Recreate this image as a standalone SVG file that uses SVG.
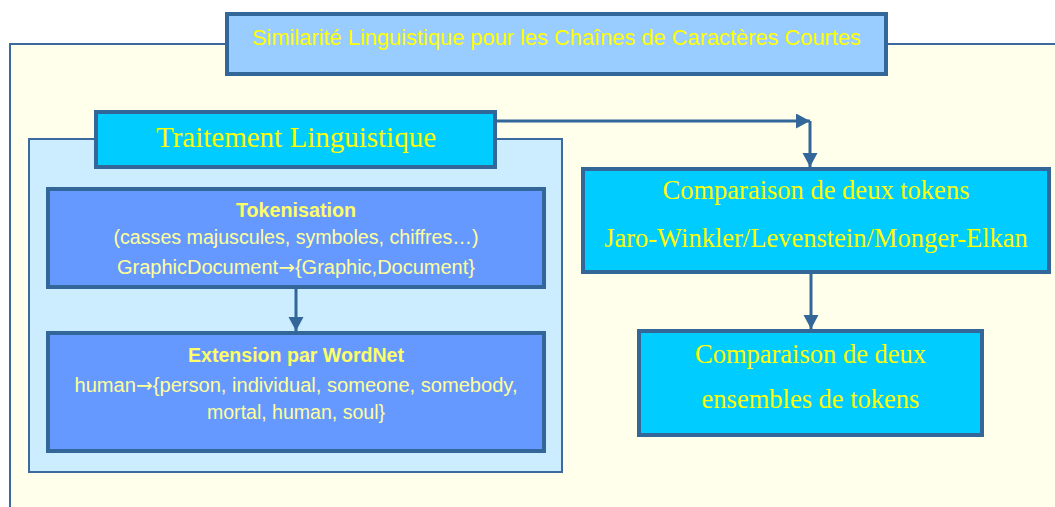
<svg xmlns="http://www.w3.org/2000/svg" width="1055" height="507" viewBox="0 0 1055 507">
  <style>
    .frame { fill: #FFFFEC; stroke: #3D6A9E; stroke-width: 2; }
    .panel { fill: #CCECFF; stroke: #3D6A9E; stroke-width: 2; }
    .box { stroke: #336699; stroke-width: 4; }
    .cyan { fill: #00CCFF; }
    .sky { fill: #99CCFF; }
    .blue { fill: #6699FF; }
    .serif { font-family: "Liberation Serif", "Times New Roman", serif; fill: #FFFF00; text-anchor: middle; }
    .sans { font-family: "Liberation Sans", Arial, sans-serif; text-anchor: middle; }
    .title { font-size: 22px; fill: #FFFF00; }
    .head { font-size: 19.5px; font-weight: bold; fill: #FFFF66; }
    .body { font-size: 19.5px; fill: #FFFF99; }
    .sym { font-family: "DejaVu Sans", sans-serif; }
    .conn { stroke: #336699; stroke-width: 3; fill: none; }
  </style>
  <defs>
    <marker id="arrow" markerUnits="userSpaceOnUse" markerWidth="16" markerHeight="16" refX="14" refY="7.5" orient="auto">
      <path d="M0,0 L14,7.5 L0,15 Z" fill="#336699"/>
    </marker>
  </defs>

  <rect width="1055" height="507" fill="#FFFFFF"/>

  <!-- outer frame of the whole schema -->
  <rect id="frame" class="frame" x="10" y="44" width="1060" height="480"/>

  <!-- linguistic processing panel -->
  <rect id="panel" class="panel" x="29" y="139" width="533" height="333"/>

  <g id="title">
    <rect class="box sky" x="227" y="14" width="659" height="60"/>
    <text class="sans title" x="556.5" y="45" textLength="609" lengthAdjust="spacingAndGlyphs">Similarité Linguistique pour les Chaînes de Caractères Courtes</text>
  </g>

  <g id="traitement">
    <rect class="box cyan" x="96" y="112" width="399" height="55"/>
    <text class="serif" x="296" y="147" font-size="29">Traitement Linguistique</text>
  </g>

  <g id="tokenisation">
    <rect class="box blue" x="48" y="189" width="496" height="98"/>
    <text class="sans head" x="296" y="217" textLength="120" lengthAdjust="spacingAndGlyphs">Tokenisation</text>
    <text class="sans body" x="296" y="244" textLength="365" lengthAdjust="spacingAndGlyphs">(casses majuscules, symboles, chiffres…)</text>
    <text class="sans body" x="296" y="274" textLength="358" lengthAdjust="spacingAndGlyphs">GraphicDocument<tspan class="sym">→</tspan>{Graphic,Document}</text>
  </g>

  <g id="extension">
    <rect class="box blue" x="48" y="333" width="496" height="118"/>
    <text class="sans head" x="296" y="362" textLength="216" lengthAdjust="spacingAndGlyphs">Extension par WordNet</text>
    <text class="sans body" x="296" y="392" textLength="443" lengthAdjust="spacingAndGlyphs">human<tspan class="sym">→</tspan>{person, individual, someone, somebody,</text>
    <text class="sans body" x="296" y="419" textLength="178" lengthAdjust="spacingAndGlyphs">mortal, human, soul}</text>
  </g>

  <g id="comparaison-tokens">
    <rect class="box cyan" x="583" y="169" width="466" height="103"/>
    <text class="serif" x="816" y="199" font-size="26.5">Comparaison de deux tokens</text>
    <text class="serif" x="816" y="247" font-size="26.5">Jaro-Winkler/Levenstein/Monger-Elkan</text>
  </g>

  <g id="comparaison-ensembles">
    <rect class="box cyan" x="639" y="331" width="343" height="104"/>
    <text class="serif" x="810.5" y="363" font-size="26.5">Comparaison de deux</text>
    <text class="serif" x="810.5" y="408" font-size="26.5">ensembles de tokens</text>
  </g>

  <g id="connectors">
    <line class="conn" x1="497" y1="121" x2="810" y2="121" marker-end="url(#arrow)"/>
    <line class="conn" x1="810" y1="121" x2="810" y2="167" marker-end="url(#arrow)"/>
    <line class="conn" x1="296" y1="289" x2="296" y2="331" marker-end="url(#arrow)"/>
    <line class="conn" x1="811" y1="274" x2="811" y2="329" marker-end="url(#arrow)"/>
  </g>
</svg>
